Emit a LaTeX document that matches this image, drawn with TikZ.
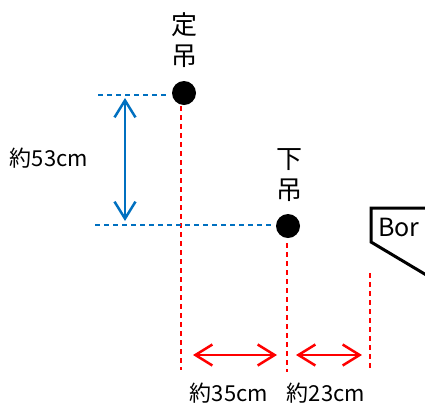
\documentclass[tikz,border=0pt]{standalone}
\usepackage{fontspec}
\setmainfont{Noto Sans CJK JP}
\usetikzlibrary{arrows.meta}
\definecolor{dimblue}{RGB}{0,112,192}
\tikzset{
  reddash/.style={draw=red, line width=1.4pt, dash pattern=on 5pt off 4pt},
  bluedash/.style={draw=dimblue, line width=1.4pt, dash pattern=on 5pt off 4pt},
  hanger/.style={circle, fill=black, inner sep=0pt, minimum size=24pt},
  kanji/.style={font=\fontsize{26}{26}\selectfont, align=center, inner sep=0pt},
  lbl/.style={font=\fontsize{22}{22}\selectfont, inner sep=0pt},
  dimarrow/.style={line width=2.5pt, {Straight Barb[length=17pt,width=21pt]}-{Straight Barb[length=17pt,width=21pt]}}
}
\begin{document}
\begin{tikzpicture}[x=1pt, y=-1pt]
		%%%%% START %%%%%
		\useasboundingbox (0,0) rectangle (425,408);
		
		% upper hanger
		\node[hanger] (fixed) at (184, 93) {};
		\node[kanji] (fixedlbl) at (184, 40) {定\\[5pt]吊};
		
		% lower hanger
		\node[hanger] (lower) at (288, 226) {};
		\node[kanji] (lowerlbl) at (289, 175) {下\\[5pt]吊};
		
		% red guide lines
		\coordinate (ra) at (181, 106);
		\coordinate (rb) at (181, 370);
		\coordinate (rc) at (287, 243);
		\coordinate (rd) at (287, 372);
		\coordinate (re) at (370, 273);
		\coordinate (rf) at (370, 370);
		\draw[reddash] (ra) -- (rb);
		\draw[reddash] (rc) -- (rd);
		\draw[reddash] (re) -- (rf);
		
		% blue guide lines
		\coordinate (ba) at (98, 95);
		\coordinate (bb) at (166, 95);
		\coordinate (bc) at (95, 225);
		\coordinate (bd) at (273, 225);
		\draw[bluedash] (ba) -- (bb);
		\draw[bluedash] (bc) -- (bd);
		
		% height
		\coordinate (ha) at (125, 98);
		\coordinate (hb) at (125, 221);
		\draw[dimarrow, dimblue] (ha) -- (hb);
		\node[lbl] (height) at (49, 158) {約53cm};
		
		% widths
		\coordinate (wa) at (193, 355);
		\coordinate (wb) at (277, 355);
		\coordinate (wc) at (296, 355);
		\coordinate (wd) at (362, 355);
		\draw[dimarrow, red] (wa) -- (wb);
		\draw[dimarrow, red] (wc) -- (wd);
		\node[lbl] (widthA) at (229, 393) {約35cm};
		\node[lbl] (widthB) at (326, 393) {約23cm};
		
		% board
		\draw[line width=3pt, line join=miter] (428, 208) -- (371, 208) -- (371, 242) -- (428, 276);
		\node[lbl, font=\fontsize{25}{25}\selectfont] (board) at (399, 227) {Bor};
		
		%%%%% END %%%%%
\end{tikzpicture}
\end{document}
